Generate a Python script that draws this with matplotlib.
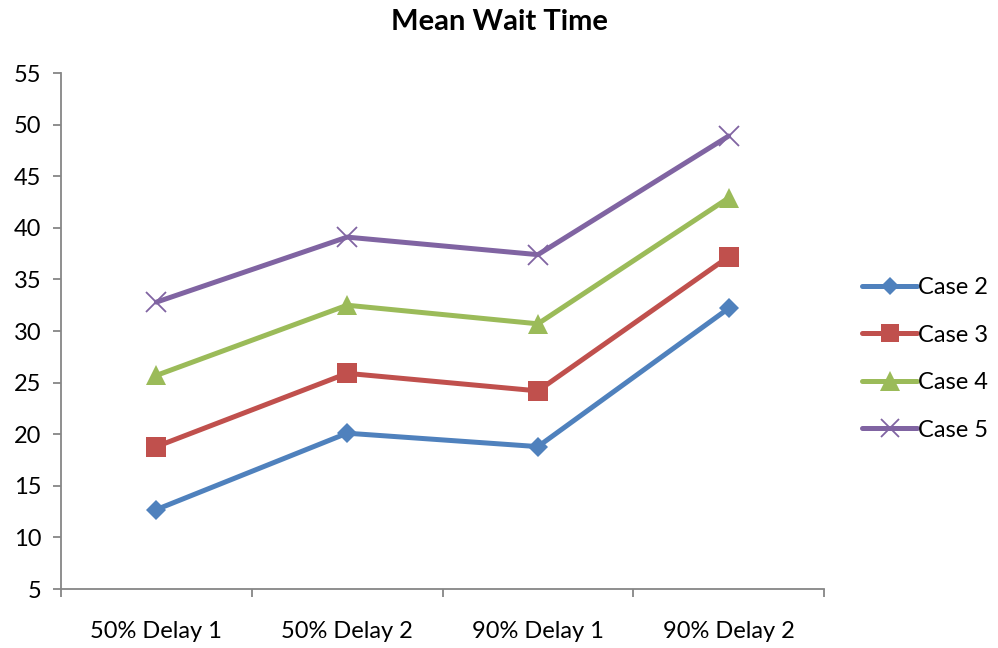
import matplotlib.pyplot as plt
import numpy as np

plt.rcParams['font.family'] = ['Lato', 'DejaVu Sans']

categories = ['50% Delay 1', '50% Delay 2', '90% Delay 1', '90% Delay 2']
case2 = [12.7, 20.1, 18.8, 32.2]
case3 = [18.8, 25.9, 24.2, 37.2]
case4 = [25.7, 32.5, 30.7, 42.9]
case5 = [32.8, 39.1, 37.4, 48.9]
series = [('Case 2', case2), ('Case 3', case3), ('Case 4', case4), ('Case 5', case5)]

colors = ['#4F81BD', '#C0504D', '#9BBB59', '#8064A2']
markers = [('D', 10), ('s', 14), ('^', 15), ('x', 14)]

fig = plt.figure(figsize=(9.98, 6.48), dpi=100)
ax = fig.add_axes([0.0611, 0.0910, 0.7646, 0.7963])

x = np.arange(len(categories))
for (name, vals), c, (m, ms) in zip(series, colors, markers):
    ax.plot(x, vals, color=c, lw=3.6, marker=m, markersize=ms,
            markeredgewidth=1.3 if m == 'x' else 0, markeredgecolor=c,
            label=name, solid_capstyle='round')

ax.set_xlim(-0.5, len(categories) - 0.5)
ax.set_ylim(5, 55)
ax.set_yticks(np.arange(5, 56, 5))
ax.set_xticks(np.arange(-0.5, len(categories), 1.0))
ax.set_xticklabels([])
ax.set_xticks(x, minor=True)
ax.set_xticklabels(categories, minor=True)
ax.tick_params(axis='x', which='minor', length=0, pad=23, labelsize=17)
ax.tick_params(axis='x', which='major', length=6, color='#868686', width=1.3)
ax.tick_params(axis='y', length=6, color='#868686', width=1.3, labelsize=17, pad=8)

for s in ['top', 'right']:
    ax.spines[s].set_visible(False)
for s in ['left', 'bottom']:
    ax.spines[s].set_color('#868686')
    ax.spines[s].set_linewidth(1.3)

fig.text(0.5, 1 - 22 / 648, 'Mean Wait Time', fontsize=21, fontweight='bold',
         ha='center', va='center')

leg = ax.legend(loc='center left', bbox_to_anchor=(1.0, 0.446), frameon=False,
                fontsize=17, handlelength=2.35, handletextpad=0.05,
                labelspacing=1.12, markerscale=0.95, borderaxespad=1.2)

fig.savefig('out.png', dpi=100)
